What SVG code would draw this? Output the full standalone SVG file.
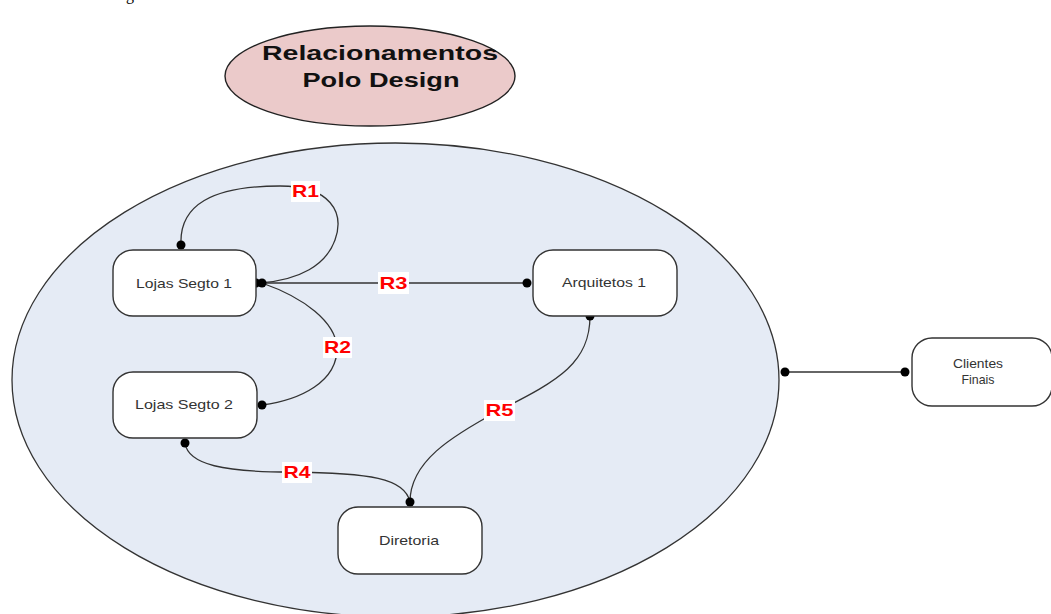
<svg xmlns="http://www.w3.org/2000/svg" width="1051" height="614" viewBox="0 0 1051 614">
<style>
.node{fill:#fff;stroke:#333;stroke-width:1.4}
.nt{font-family:"Liberation Sans",Arial,sans-serif;font-size:13px;fill:#333;text-anchor:middle}
.conn{fill:none;stroke:#333;stroke-width:1.3}
.dot{fill:#000}
.lbg{fill:#fff}
.lt{font-family:"Liberation Sans",Arial,sans-serif;font-size:17px;font-weight:bold;fill:#ff0000;text-anchor:middle}
.tt{font-family:"Liberation Sans",Arial,sans-serif;font-size:21px;font-weight:bold;fill:#111;text-anchor:middle}
</style>
<rect width="1051" height="614" fill="#fff"/>
<text x="126" y="0" font-family="Liberation Serif,serif" font-size="16" fill="#000">g</text>
<g id="title">
<ellipse cx="370" cy="76" rx="145" ry="50" fill="#ebcaca" stroke="#222" stroke-width="1.4"/>
<text class="tt" x="380" y="60" textLength="236" lengthAdjust="spacingAndGlyphs">Relacionamentos</text>
<text class="tt" x="381" y="87" textLength="157" lengthAdjust="spacingAndGlyphs">Polo Design</text>
</g>
<g id="polo">
<ellipse cx="395.5" cy="380" rx="383.5" ry="237" fill="#e5ebf5" stroke="#333" stroke-width="1.3"/>
</g>
<g id="connectors">
<path class="conn" d="M181,245 C179,205 212,186 280,186 C330,186 345,212 335,240 C326,265 300,280 260,283"/>
<path class="conn" d="M262,283 C305,298 335,322 337,347 C338,382 300,400 262,405"/>
<path class="conn" d="M262,283 L527,283"/>
<path class="conn" d="M185,443 C188,465 225,472 290,472 C370,473 405,478 410,502"/>
<path class="conn" d="M590,316 C590,362 560,380 500,410 C450,437 410,462 410,502"/>
<path class="conn" d="M785,372 L905,372"/>
<circle class="dot" cx="181" cy="245" r="4.5"/>
<circle class="dot" cx="256" cy="283" r="4.5"/>
<circle class="dot" cx="262" cy="283" r="4.5"/>
<circle class="dot" cx="527" cy="283" r="4.5"/>
<circle class="dot" cx="262" cy="405" r="4.5"/>
<circle class="dot" cx="185" cy="443" r="4.5"/>
<circle class="dot" cx="590" cy="316" r="4.5"/>
<circle class="dot" cx="410" cy="502" r="4.5"/>
<circle class="dot" cx="785" cy="372" r="4.5"/>
<circle class="dot" cx="905" cy="372" r="4.5"/>
</g>
<g id="labels">
<rect class="lbg" x="291" y="181" width="29" height="21"/>
<text class="lt" x="305.5" y="197" textLength="27" lengthAdjust="spacingAndGlyphs">R1</text>
<rect class="lbg" x="323" y="337" width="29" height="21"/>
<text class="lt" x="337.5" y="353" textLength="27" lengthAdjust="spacingAndGlyphs">R2</text>
<rect class="lbg" x="378" y="272" width="31" height="22"/>
<text class="lt" x="393.5" y="289" textLength="28" lengthAdjust="spacingAndGlyphs">R3</text>
<rect class="lbg" x="282" y="462" width="30" height="21"/>
<text class="lt" x="297" y="478" textLength="27" lengthAdjust="spacingAndGlyphs">R4</text>
<rect class="lbg" x="484" y="400" width="31" height="21"/>
<text class="lt" x="499.5" y="416" textLength="28" lengthAdjust="spacingAndGlyphs">R5</text>
</g>
<g id="lojas1">
<rect class="node" x="113" y="250" width="143" height="66" rx="20"/>
<text class="nt" x="184" y="288" textLength="96" lengthAdjust="spacingAndGlyphs">Lojas Segto 1</text>
</g>
<g id="lojas2">
<rect class="node" x="113" y="372" width="144" height="66" rx="20"/>
<text class="nt" x="184" y="409" textLength="98" lengthAdjust="spacingAndGlyphs">Lojas Segto 2</text>
</g>
<g id="arquitetos1">
<rect class="node" x="533" y="250" width="144" height="66" rx="20"/>
<text class="nt" x="604" y="287" textLength="84" lengthAdjust="spacingAndGlyphs">Arquitetos 1</text>
</g>
<g id="diretoria">
<rect class="node" x="338" y="507" width="144" height="67" rx="20"/>
<text class="nt" x="409" y="545" textLength="60" lengthAdjust="spacingAndGlyphs">Diretoria</text>
</g>
<g id="clientes">
<rect class="node" x="912" y="338" width="140" height="68" rx="20"/>
<text class="nt" x="978" y="368" textLength="50" lengthAdjust="spacingAndGlyphs">Clientes</text>
<text class="nt" x="978" y="384" textLength="33" lengthAdjust="spacingAndGlyphs">Finais</text>
</g>
</svg>
